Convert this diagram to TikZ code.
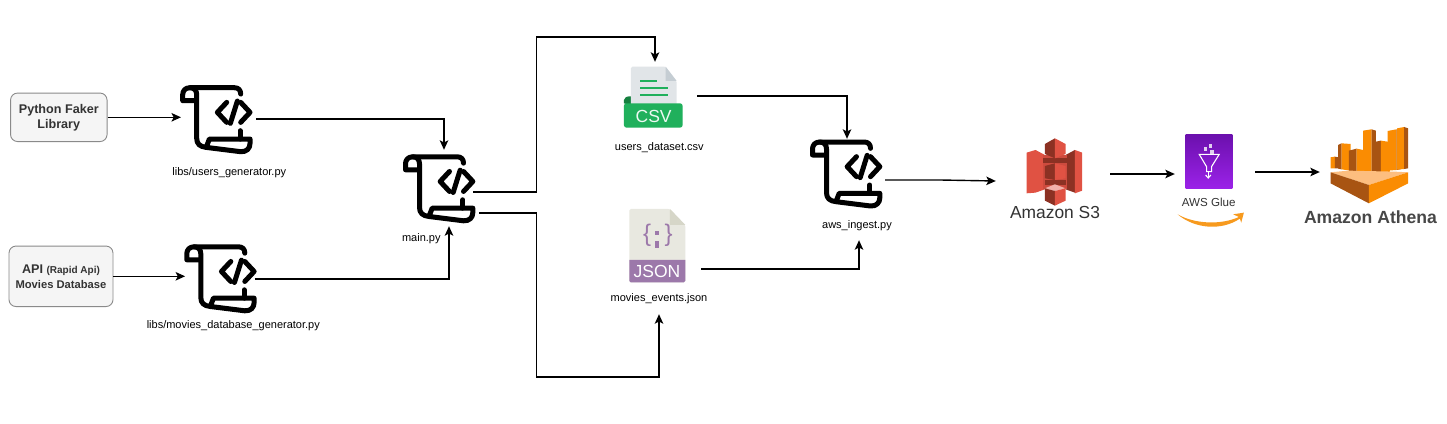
\documentclass[tikz,border=0pt]{standalone}
\usepackage{fontspec}
\setmainfont{Liberation Sans}
\usetikzlibrary{arrows.meta}
\definecolor{boxfill}{HTML}{F5F5F5}
\definecolor{boxline}{HTML}{8A8A8A}
\definecolor{txt}{HTML}{333333}
\definecolor{csvgreen}{HTML}{20B05C}
\definecolor{csvdark}{HTML}{15803F}
\definecolor{csvdoc}{HTML}{E1E5E8}
\definecolor{csvfold}{HTML}{C5CDD3}
\definecolor{jsondoc}{HTML}{E8E8E0}
\definecolor{jsonfold}{HTML}{D6D6C8}
\definecolor{jsonband}{HTML}{9C78AA}
\definecolor{sred}{HTML}{E05243}
\definecolor{sdark}{HTML}{8C3123}
\definecolor{speach}{HTML}{F2B0A9}
\definecolor{aor}{HTML}{FA8C02}
\definecolor{abr}{HTML}{A85412}
\definecolor{apeach}{HTML}{FDBE7F}
\definecolor{smile}{HTML}{F79A1E}
\definecolor{gluetop}{HTML}{6B10AD}
\definecolor{gluebot}{HTML}{9B22E8}
\tikzset{
  x=1pt,y=-1pt,
  conn/.style={line width=1.4pt,black,-{Stealth[length=9.5pt,width=8.5pt,inset=2.2pt]}},
  srcbox/.style={draw=boxline,fill=boxfill,rounded corners=7pt,line width=0.9pt,inner sep=0pt,align=center,text=txt,font=\fontsize{12.6}{15}\selectfont\bfseries},
  iconbox/.style={inner sep=0pt,minimum width=70pt,minimum height=66pt},
  filelabel/.style={inner sep=0pt,text=black,font=\fontsize{11}{13}\selectfont},
  pics/scripticon/.style={code={
    \begin{scope}[x=0.3333pt,y=-0.3333pt,shift={(-648.5,-149)},line width=5pt,line cap=round,line join=round,black]
      \draw (722,72) .. controls (722,60) and (715,53) .. (703,53) -- (570,53)
        .. controls (556,53) and (548,62) .. (548,74) -- (548,92) -- (588,92);
      \draw (570,53) .. controls (583,53) and (590,62) .. (590,74) -- (590,205)
        .. controls (590,222) and (600,230) .. (618,232) -- (722,245)
        .. controls (740,246) and (750,235) .. (750,220) -- (750,207) -- (628,207) -- (620,228);
      \draw (720,182) -- (720,207);
      \draw (680,97) -- (652,127) -- (680,157);
      \draw (722,97) -- (750,127) -- (722,157);
      \draw (712,93) -- (691,160);
    \end{scope}
  }}
}
\begin{document}
\begin{tikzpicture}
\useasboundingbox (0,0) rectangle (1447,423);
\fill[white] (0,0) rectangle (1447,423);

% source boxes
\node[srcbox,minimum width=96.5pt,minimum height=48.5pt] (faker) at (58.8,117.3) {Python Faker\\Library};
\node[srcbox,minimum width=104pt,minimum height=60.5pt] (api) at (61,276.3)
  {\fontsize{12.6}{14}\selectfont API {\fontsize{10}{14}\selectfont (Rapid Api)}\\\fontsize{11.2}{14}\selectfont Movies Database};

% script icons
\node[iconbox] (users) at (216.2,119.7) {};
\node[iconbox] (movies) at (220.3,278.8) {};
\node[iconbox] (main) at (439,188.8) {};
\node[iconbox] (ingest) at (846,174) {};
\pic at (users) {scripticon};
\pic at (movies) {scripticon};
\pic at (main) {scripticon};
\pic at (ingest) {scripticon};

\node[filelabel] (l1) at (229.3,173) {libs/users\_generator.py};
\node[filelabel] (l2) at (233.3,326) {libs/movies\_database\_generator.py};
\node[filelabel] (l3) at (421.3,238.3) {main.py};
\node[filelabel] (l4) at (659.3,147.3) {users\_dataset.csv};
\node[filelabel] (l5) at (659,298.3) {movies\_events.json};
\node[filelabel] (l6) at (857,226) {aws\_ingest.py};

% CSV icon
\node[inner sep=0pt,minimum width=59pt,minimum height=61pt] (csv) at (653.5,97) {};
\begin{scope}[x=0.3333pt,y=-0.3333pt,shift={(1800,150)}]
  \fill[csvdark] (72,160) -- (72,150) .. controls (72,142) and (80,139) .. (93,139) -- (93,165) -- cycle;
  \fill[csvdoc,rounded corners=1.5pt] (93,170) -- (93,50) -- (197,50) -- (230,93) -- (230,170) -- cycle;
  \fill[csvfold] (197,50) -- (230,93) -- (197,93) -- cycle;
  \fill[csvgreen,rounded corners=2.5pt] (72,160) rectangle (248,233);
  \fill[csvgreen] (120,91) rectangle (170,97);
  \fill[csvgreen] (120,112) rectangle (205,118);
  \fill[csvgreen] (120,132) rectangle (205,138);
\end{scope}
\node[inner sep=0pt,text=white!92!csvgreen,font=\fontsize{17.5}{20}\selectfont] (csvt) at (653.6,116) {CSV};

% JSON icon
\node[inner sep=0pt,minimum width=56pt,minimum height=73pt] (json) at (657,245.5) {};
\begin{scope}[x=0.3333pt,y=-0.3333pt,shift={(1800,600)}]
  \fill[jsondoc,rounded corners=1.5pt] (88,247) -- (88,27) -- (210,27) -- (256,75) -- (256,247) -- cycle;
  \fill[jsonfold] (210,27) -- (256,75) -- (210,75) -- cycle;
  \fill[jsonband] (88,180) -- (256,180) -- (256,243) -- (252,247) -- (92,247) -- (88,243) -- cycle;
  \fill[jsonband] (165,93) rectangle (176,104);
  \fill[jsonband] (165,122) rectangle (176,145);
\end{scope}
\node[inner sep=0pt,text=jsonband,font=\fontsize{24}{26}\selectfont] (b1) at (647,235.5) {\{};
\node[inner sep=0pt,text=jsonband,font=\fontsize{24}{26}\selectfont] (b2) at (668.5,235.5) {\}};
\node[inner sep=0pt,text=white,font=\fontsize{17.5}{20}\selectfont] (jsont) at (657,271) {JSON};

% S3 logo
\node[inner sep=0pt,minimum width=56pt,minimum height=67pt] (s3) at (1055,175) {};
\begin{scope}[x=0.3333pt,y=-0.3333pt,shift={(3000,390)}]
  \fill[sred] (80,68) -- (107,60) -- (135,75) -- (135,178) -- (107,188) -- (80,190) -- cycle;
  \fill[sdark] (197,75) -- (225,60) -- (225,188) -- (197,178) -- cycle;
  \fill[sred] (225,60) -- (247,68) -- (247,182) -- (225,190) -- cycle;
  \fill[sred!92!black] (130,75) rectangle (200,178);
  \fill[sdark] (130,85) -- (200,85) -- (200,100) -- (130,100) -- cycle;
  \fill[sdark] (135,42) -- (165,25) -- (165,85) -- (135,72) -- cycle;
  \fill[sred] (165,25) -- (197,42) -- (197,72) -- (165,85) -- cycle;
  \fill[sdark] (135,108) -- (165,100) -- (165,150) -- (135,145) -- cycle;
  \fill[sred] (165,100) -- (197,108) -- (197,145) -- (165,150) -- cycle;
  \fill[sdark] (135,150) rectangle (197,165);
  \fill[speach] (135,175) -- (165,163) -- (197,175) -- (165,183) -- cycle;
  \fill[sdark] (135,175) -- (165,183) -- (165,227) -- (135,212) -- cycle;
  \fill[sred] (165,183) -- (197,175) -- (197,212) -- (165,227) -- cycle;
\end{scope}
\node[inner sep=0pt,text=txt,font=\fontsize{17.4}{20}\selectfont] (s3t) at (1055,213) {Amazon S3};

% Glue logo
\node[inner sep=0pt,minimum width=46.6pt,minimum height=54pt,top color=gluetop,bottom color=gluebot] (glue) at (1209,161.3) {};
\begin{scope}[x=0.3333pt,y=-0.3333pt,shift={(3495,375)},line width=1.1pt,white]
  \draw (103,88) -- (163,88) -- (140,125) -- (140,140) -- (125,140) -- (125,125) -- cycle;
  \fill[white!80!gluetop] (117,67) rectangle (127,79);
  \fill[white!80!gluetop] (132,57) rectangle (142,69);
  \fill[white!80!gluetop] (135,75) rectangle (146,87);
  \draw (130,142) -- (130,158);
  \draw (122,150) -- (130,159) -- (138,150);
\end{scope}
\node[inner sep=0pt,text=txt,font=\fontsize{11.6}{13}\selectfont] (gluet) at (1208.7,202) {AWS Glue};
\begin{scope}[x=0.3333pt,y=-0.3333pt,shift={(3495,375)}]
  \fill[smile] (38,268) .. controls (90,298) and (170,300) .. (222,276)
    -- (205,268) -- (237,263) -- (229,293) -- (225,281)
    .. controls (170,318) and (90,312) .. (38,268) -- cycle;
\end{scope}

% Athena logo
\node[inner sep=0pt,minimum width=78pt,minimum height=76pt] (athena) at (1369,165) {};
\begin{scope}[x=0.3333pt,y=-0.3333pt,shift={(3885,360)}]
  \fill[aor] (107,112) -- (120,110) -- (120,145) -- (107,145) -- cycle;
  \fill[abr] (120,110) -- (130,112) -- (130,145) -- (120,145) -- cycle;
  \fill[abr] (130,75) -- (140,70) -- (140,148) -- (130,146) -- cycle;
  \fill[aor] (140,70) -- (167,72) -- (167,152) -- (140,148) -- cycle;
  \fill[abr] (162,92) -- (185,86) -- (185,158) -- (162,155) -- cycle;
  \fill[aor] (185,86) -- (205,90) -- (205,158) -- (185,158) -- cycle;
  \fill[aor] (205,32) -- (230,28) -- (230,165) -- (205,163) -- cycle;
  \fill[abr] (230,28) -- (243,32) -- (243,162) -- (230,165) -- cycle;
  \fill[abr] (243,65) -- (258,62) -- (258,160) -- (243,158) -- cycle;
  \fill[aor] (258,62) -- (285,66) -- (285,155) -- (258,160) -- cycle;
  \fill[aor] (278,33) -- (305,28) -- (305,150) -- (278,152) -- cycle;
  \fill[abr] (305,28) -- (317,32) -- (317,148) -- (305,150) -- cycle;
  \fill[aor] (307,25) -- (328,21) -- (328,147) -- (307,149) -- cycle;
  \fill[abr] (328,21) -- (340,25) -- (340,145) -- (328,147) -- cycle;
  \fill[apeach] (107,157) -- (160,152) -- (300,155) -- (340,157) -- (222,195) -- cycle;
  \fill[abr] (107,157) -- (222,195) -- (222,250) -- (107,190) -- cycle;
  \fill[aor] (222,195) -- (340,157) -- (340,190) -- (222,250) -- cycle;
\end{scope}
\node[inner sep=0pt,text=txt!90!white,font=\fontsize{17.6}{20}\selectfont\bfseries] (athenat) at (1370.5,217) {Amazon Athena};

% connectors
\draw[conn] (faker.east) -- (users.west |- faker.east);
\draw[conn] (api.east) -- (movies.west |- api.east);
\draw[conn] ([shift={(5,-0.7)}]users.east) -| ([shift={(5,-5.8)}]main.north);
\draw[conn] ([shift={(-1,0)}]movies.east) -| ([shift={(10,4.2)}]main.south);
\draw[conn] ([shift={(-1,3)}]main.east) -- ++(63,0) -- ++(0,-155) -| ([shift={(1.5,-4.5)}]csv.north);
\draw[conn] ([shift={(5,24)}]main.east) -- ++(57,0) -- ++(0,164) -| ([shift={(2,32)}]json.south);
\draw[conn] ([shift={(14,-1)}]csv.east) -| ([shift={(1,-2)}]ingest.north);
\draw[conn] ([shift={(16,23.5)}]json.east) -| ([shift={(13,33)}]ingest.south);
\draw[conn] ([shift={(4,6)}]ingest.east) -- ++(55,0) -- ([shift={(-31,6)}]s3.west);
\draw[conn] ([shift={(27,-1)}]s3.east) -- ([shift={(-10.7,12.7)}]glue.west);
\draw[conn] ([shift={(22.7,10.7)}]glue.east) -- ([shift={(-10,7)}]athena.west);
\end{tikzpicture}
\end{document}
